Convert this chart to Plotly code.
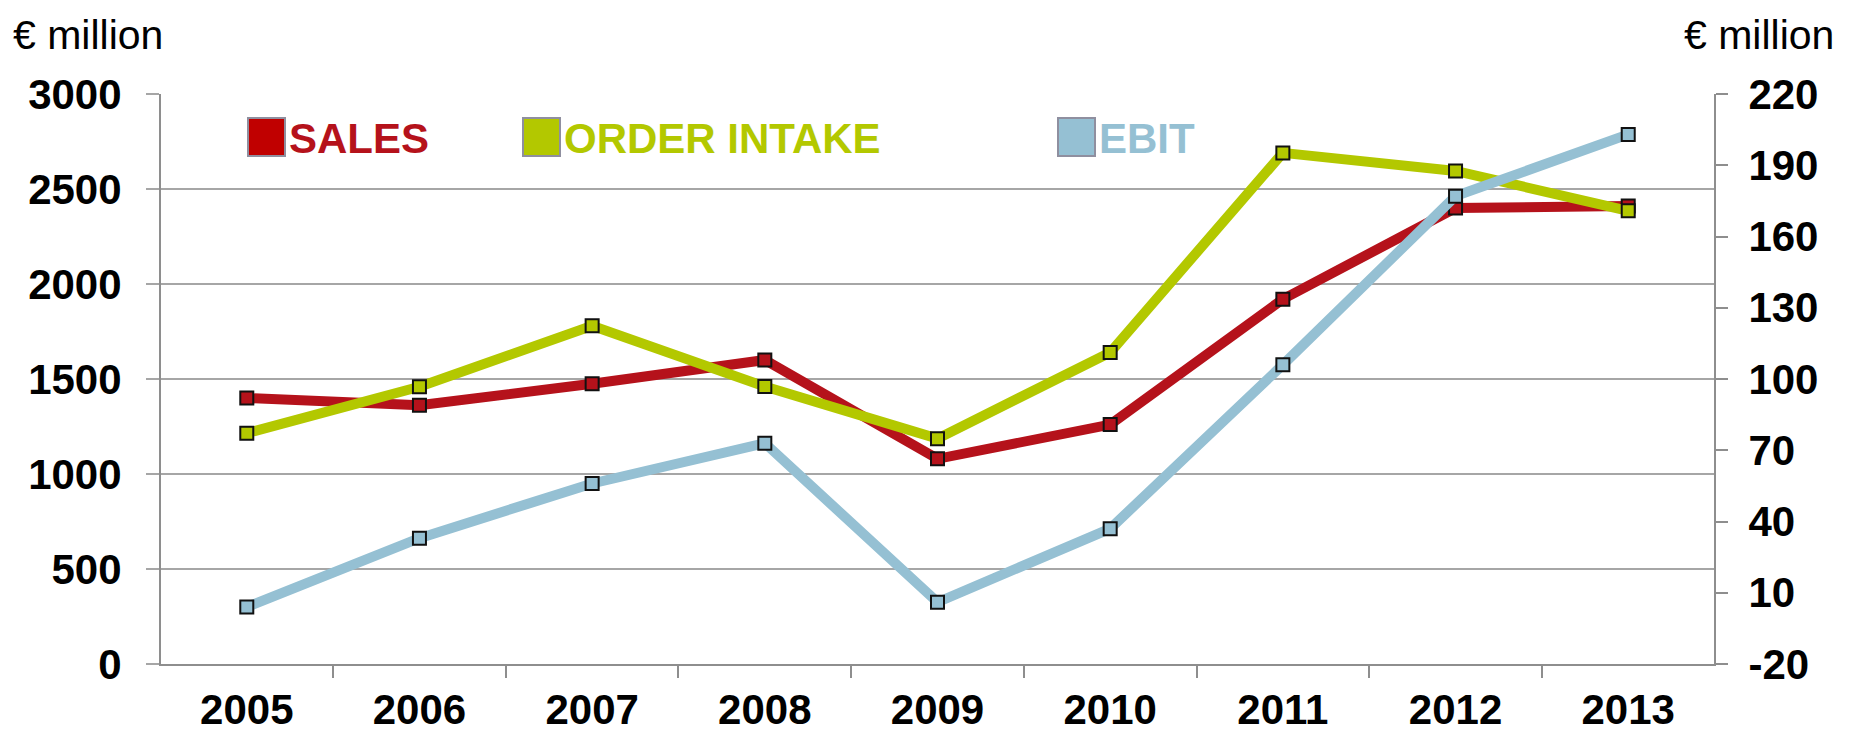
import plotly.graph_objects as go

years = ["2005", "2006", "2007", "2008", "2009", "2010", "2011", "2012", "2013"]
sales = [1400, 1362, 1475, 1600, 1080, 1260, 1920, 2400, 2410]
order_intake = [1215, 1459, 1780, 1460, 1186, 1640, 2690, 2595, 2385]
ebit = [4, 33, 56, 73, 6, 37, 106, 177, 203]

left_ticks = [0, 500, 1000, 1500, 2000, 2500, 3000]
right_ticks = [-20, 10, 40, 70, 100, 130, 160, 190, 220]

OFF = 8  # page body margin
W, H = 1852 - OFF, 733 - OFF
L, R, T, B = 161 - OFF, 1714 - OFF, 94 - OFF, 664 - OFF

C_SALES = "#B5121B"
C_ORDER = "#B3C800"
C_EBIT = "#95C0D3"
FONT = "Liberation Sans, Arial, sans-serif"

def px(x):
    return (x - OFF - L) / (R - L)

def py(y):
    return (B - (y - OFF)) / (B - T)

fig = go.Figure()
mk = dict(symbol="square", size=13, line=dict(color="#111111", width=2))
fig.add_trace(go.Scatter(x=years, y=sales, mode="lines+markers", name="SALES",
                         line=dict(color=C_SALES, width=10),
                         marker=dict(color=C_SALES, **mk)))
fig.add_trace(go.Scatter(x=years, y=order_intake, mode="lines+markers", name="ORDER INTAKE",
                         line=dict(color=C_ORDER, width=10),
                         marker=dict(color=C_ORDER, **mk)))
fig.add_trace(go.Scatter(x=years, y=ebit, mode="lines+markers", name="EBIT", yaxis="y2",
                         line=dict(color=C_EBIT, width=10),
                         marker=dict(color=C_EBIT, **mk)))

tickfont = dict(family=FONT, size=42, color="#000000", weight="bold")

fig.update_layout(
    template="none",
    width=W, height=H,
    margin=dict(l=L, r=W - R, t=T, b=H - B, pad=0, autoexpand=False),
    paper_bgcolor="white", plot_bgcolor="white",
    showlegend=False,
    xaxis=dict(type="category", showgrid=False, showline=True, linecolor="#8E8E8E", linewidth=2,
               ticks="outside", tickson="boundaries", ticklen=12, tickwidth=2, tickcolor="#8E8E8E",
               tickfont=tickfont, ticklabelstandoff=8, zeroline=False, mirror=False,
               automargin=False),
    yaxis=dict(range=[0, 3000], tickvals=left_ticks, ticktext=[str(v) for v in left_ticks],
               showgrid=True, gridcolor="#A6A6A6", gridwidth=2,
               showline=True, linecolor="#8E8E8E", linewidth=2,
               ticks="outside", ticklen=13, tickwidth=2, tickcolor="#A6A6A6",
               tickfont=tickfont, ticklabelstandoff=16, zeroline=False, automargin=False),
    yaxis2=dict(range=[-20, 220], tickvals=right_ticks, ticktext=[str(v) for v in right_ticks],
                overlaying="y", side="right", showgrid=False,
                showline=True, linecolor="#8E8E8E", linewidth=2,
                ticks="outside", ticklen=12, tickwidth=2, tickcolor="#8E8E8E",
                tickfont=tickfont, ticklabelstandoff=12, zeroline=False, automargin=False),
)

# axis unit titles
title_font = dict(family=FONT, size=41, color="#000000")
fig.add_annotation(text="€ million", xref="paper", yref="paper", x=px(12), y=py(35),
                   xanchor="left", yanchor="middle", showarrow=False, borderpad=0,
                   font=title_font)
fig.add_annotation(text="€ million", xref="paper", yref="paper", x=px(1835), y=py(35),
                   xanchor="right", yanchor="middle", showarrow=False, borderpad=0,
                   font=title_font)

# legend (custom)
legend_items = [("SALES", "#C00000", C_SALES, 248),
                ("ORDER INTAKE", C_ORDER, C_ORDER, 523),
                ("EBIT", C_EBIT, C_EBIT, 1058)]
for label, fill, tcol, x0 in legend_items:
    fig.add_shape(type="rect", xref="paper", yref="paper",
                  x0=px(x0), x1=px(x0 + 37), y0=py(156), y1=py(118),
                  fillcolor=fill, line=dict(color="#8F8F9F", width=2))
    fig.add_annotation(text=label, xref="paper", yref="paper", x=px(x0 + 39), y=py(138),
                       xanchor="left", yanchor="middle", showarrow=False,
                       font=dict(family=FONT, size=42, color=tcol, weight="bold"))

fig.write_html("out.html")
